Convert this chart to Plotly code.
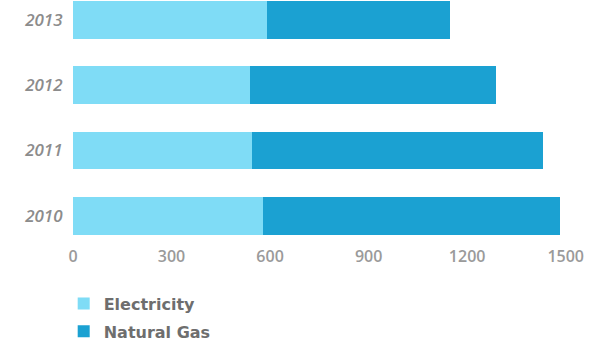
import plotly.graph_objects as go

years = ["2010", "2011", "2012", "2013"]
electricity = [577, 545, 538, 592]
natural_gas = [905, 885, 749, 555]
x_ticks = [0, 300, 600, 900, 1200, 1500]

fig = go.Figure()
fig.add_trace(go.Bar(y=years, x=electricity, name="Electricity", orientation="h",
                     legendgroup="e",
                     marker=dict(color="#7fdcf6", line=dict(width=0))))
fig.add_trace(go.Bar(y=years, x=natural_gas, name="Natural Gas", orientation="h",
                     legendgroup="g",
                     marker=dict(color="#1ba1d2", line=dict(width=0))))

fig.update_layout(
    barmode="stack",
    bargap=0.42,
    width=590, height=344,
    margin=dict(l=73, r=0, t=0, b=99, autoexpand=False),
    plot_bgcolor="white", paper_bgcolor="white",
    font=dict(family="Open Sans", size=16, color="#999999"),
    xaxis=dict(range=[0, 1574], tickvals=x_ticks, ticktext=[str(v) for v in x_ticks],
               showgrid=False, zeroline=False, showline=False, ticks="",
               tickfont=dict(family="Open Sans", size=16, color="#9a9a9a", weight=600)),
    yaxis=dict(type="category", categoryorder="array", categoryarray=years,
               range=[-0.45, 3.306], showgrid=False, zeroline=False, showline=False,
               ticks="outside", ticklen=6, tickcolor="rgba(0,0,0,0)",
               tickfont=dict(family="Open Sans", size=17, color="#8c8c8c", style="italic", weight=600)),
    legend=dict(orientation="v", x=-0.018, xanchor="left", y=-0.17, yanchor="top",
                traceorder="grouped", tracegroupgap=4,
                font=dict(family="DejaVu Sans", size=16, color="#6e6e6e", weight="bold"),
                bgcolor="rgba(0,0,0,0)"),
    showlegend=True,
)

fig.write_html("out.html")
